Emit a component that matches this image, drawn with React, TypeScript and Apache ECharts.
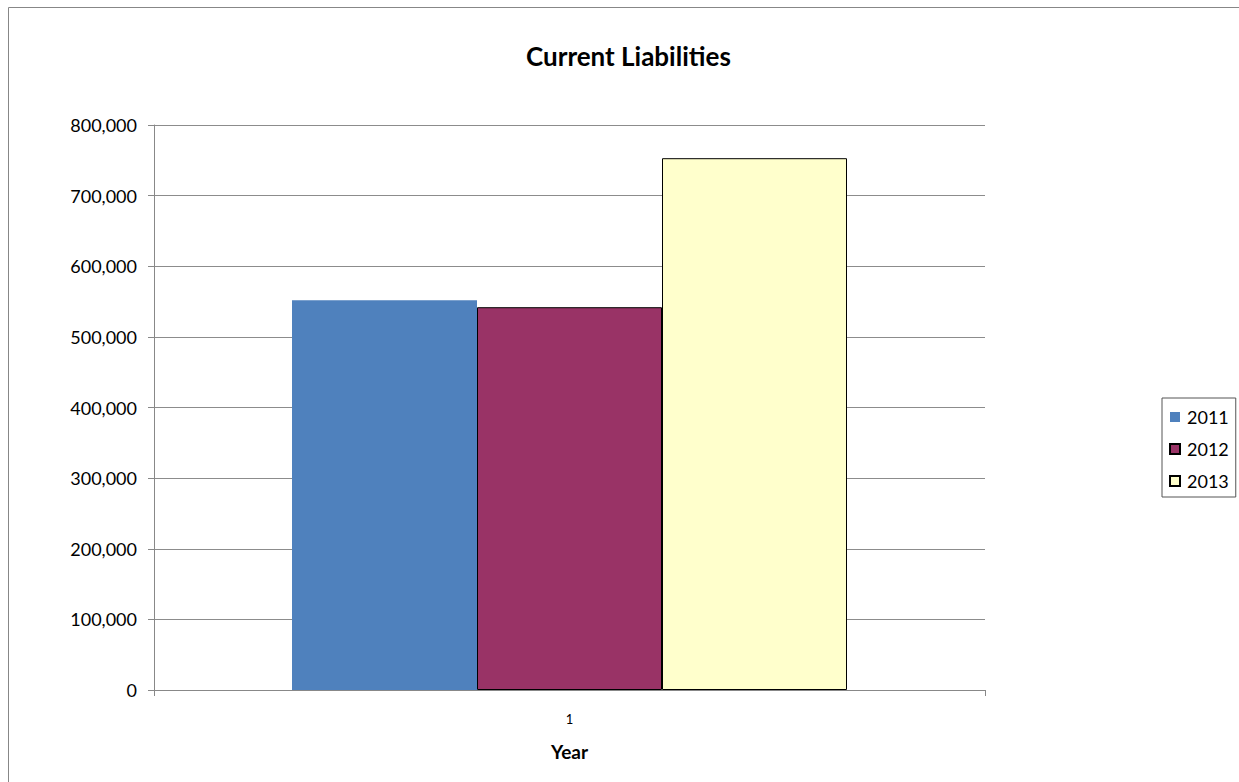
import React, { useEffect, useRef } from "react";
import * as echarts from "echarts";

const categories = ["1"];
const seriesNames = ["2011", "2012", "2013"];
const values2011 = [552000];
const values2012 = [542000];
const values2013 = [753000];
const yTicks = { min: 0, max: 800000, interval: 100000 };

const FONT = "Lato, 'Open Sans', sans-serif";

export default function App() {
  const ref = useRef<HTMLDivElement>(null);
  useEffect(() => {
    if (!ref.current) return;
    const chart = echarts.init(ref.current, undefined, { renderer: "svg" });
    chart.setOption({
      animation: false,
      backgroundColor: "#ffffff",
      textStyle: { fontFamily: FONT },
      title: {
        text: "Current Liabilities",
        left: 521,
        top: 38,
        textStyle: { fontSize: 26, fontWeight: "bold", color: "#000", fontFamily: FONT },
      },
      graphic: [
        {
          type: "rect",
          shape: { x: 8.5, y: 7.5, width: 1400, height: 1000 },
          style: { fill: "none", stroke: "#878787", lineWidth: 1 },
          silent: true,
        },
      ],
      legend: {
        orient: "vertical",
        left: 1162,
        top: 398,
        padding: [9, 7, 6, 7],
        borderColor: "#555",
        borderWidth: 1,
        itemWidth: 10,
        itemHeight: 10,
        itemGap: 12,
        icon: "rect",
        data: seriesNames,
        textStyle: {
          fontSize: 18,
          lineHeight: 20,
          color: "#000",
          fontFamily: FONT,
          padding: [0, 0, 0, 2],
        },
      },
      grid: { left: 154, top: 125, right: 254, bottom: 92, containLabel: false },
      xAxis: {
        type: "category",
        data: categories,
        name: "Year",
        nameLocation: "middle",
        nameGap: 52,
        nameTextStyle: { fontSize: 19, fontWeight: "bold", color: "#000", fontFamily: FONT },
        axisLine: { lineStyle: { color: "#888", width: 1 } },
        axisTick: { show: true, length: 6, lineStyle: { color: "#888" } },
        axisLabel: { fontSize: 13, color: "#000", margin: 22, fontFamily: FONT },
      },
      yAxis: {
        type: "value",
        min: yTicks.min,
        max: yTicks.max,
        interval: yTicks.interval,
        axisLine: { show: true, lineStyle: { color: "#888", width: 1 } },
        axisTick: { show: true, length: 6, lineStyle: { color: "#888" } },
        splitLine: { show: true, lineStyle: { color: "#8c8c8c", width: 1 } },
        axisLabel: {
          fontSize: 18,
          color: "#000",
          margin: 17,
          fontFamily: FONT,
          formatter: (v: number) => v.toLocaleString("en-US"),
        },
      },
      series: [
        {
          name: seriesNames[0],
          type: "bar",
          data: values2011,
          barWidth: 185,
          barGap: "0%",
          itemStyle: { color: "#4f81bd" },
        },
        {
          name: seriesNames[1],
          type: "bar",
          data: values2012,
          barWidth: 185,
          barGap: "0%",
          itemStyle: { color: "#993366", borderColor: "#000", borderWidth: 1 },
        },
        {
          name: seriesNames[2],
          type: "bar",
          data: values2013,
          barWidth: 185,
          barGap: "0%",
          itemStyle: { color: "#ffffcc", borderColor: "#000", borderWidth: 1 },
        },
      ],
    });
    return () => chart.dispose();
  }, []);
  return (
    <div
      ref={ref}
      style={{ position: "absolute", left: 0, top: 0, width: 1239, height: 782 }}
    />
  );
}
